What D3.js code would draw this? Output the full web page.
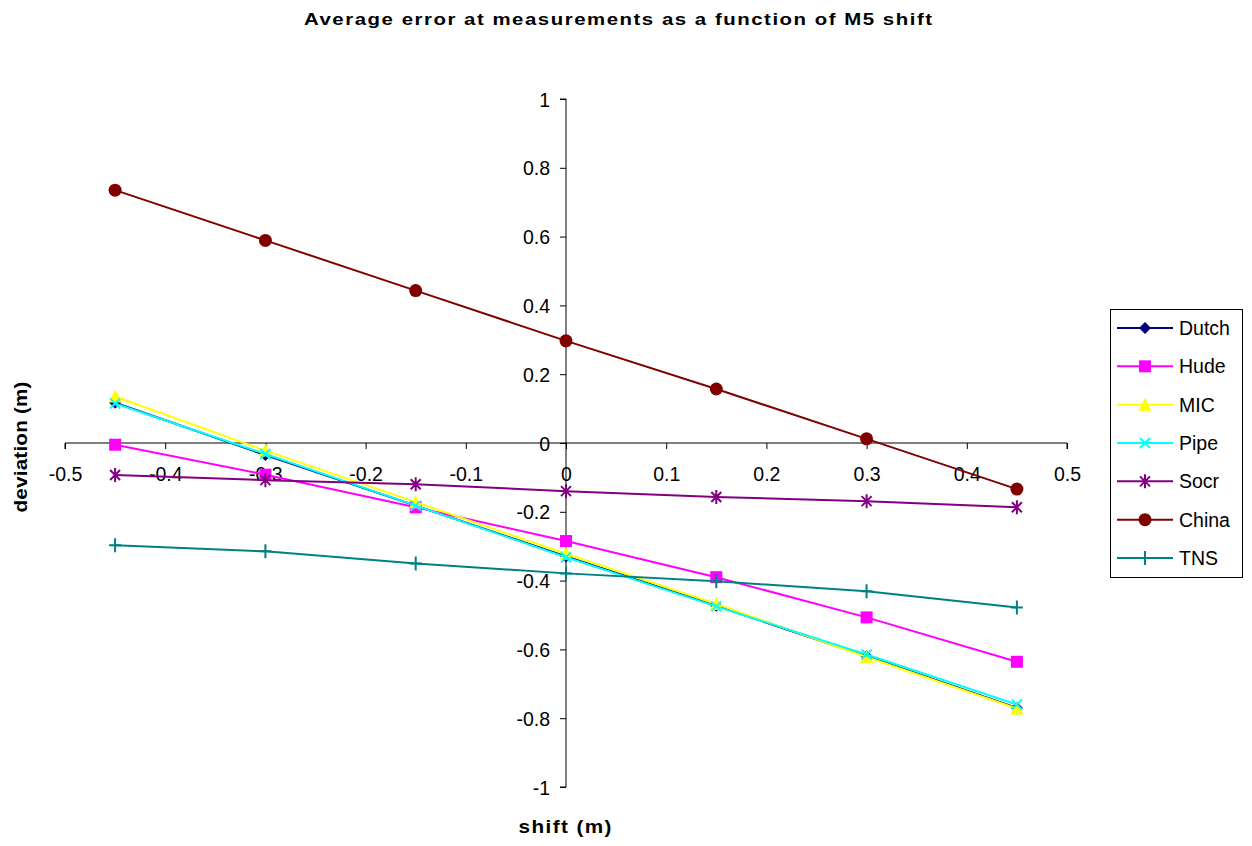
<!DOCTYPE html>
<html><head><meta charset="utf-8">
<script src="https://cdn.jsdelivr.net/npm/d3@7"></script>
<style>body{margin:0;background:#fff;}svg{display:block;font-family:"Liberation Sans",Arial,sans-serif;}</style>
</head><body><svg id="c" width="1252" height="846"></svg>
<script>
const shifts = [-0.45, -0.3, -0.15, 0, 0.15, 0.3, 0.45];
const dutch = [0.117, -0.035, -0.182, -0.33, -0.473, -0.62, -0.77];
const hude = [-0.005, -0.092, -0.187, -0.285, -0.39, -0.507, -0.636];
const mic = [0.135, -0.022, -0.172, -0.322, -0.468, -0.622, -0.772];
const pipe = [0.115, -0.032, -0.182, -0.332, -0.475, -0.615, -0.76];
const socr = [-0.093, -0.108, -0.12, -0.14, -0.157, -0.169, -0.187];
const china = [0.735, 0.589, 0.443, 0.297, 0.157, 0.012, -0.134];
const tns = [-0.297, -0.315, -0.35, -0.379, -0.402, -0.431, -0.478];
const seriesNames = ["Dutch","Hude","MIC","Pipe","Socr","China","TNS"];
const xTicks = [-0.5,-0.4,-0.3,-0.2,-0.1,0,0.1,0.2,0.3,0.4,0.5];
const yTicks = [-1,-0.8,-0.6,-0.4,-0.2,0,0.2,0.4,0.6,0.8,1];

const series = [
 {name:"Dutch", values:dutch, color:"#000080", marker:"diamond"},
 {name:"Hude", values:hude, color:"#FF00FF", marker:"square"},
 {name:"MIC", values:mic, color:"#FFFF00", marker:"triangle"},
 {name:"Pipe", values:pipe, color:"#00FFFF", marker:"x"},
 {name:"Socr", values:socr, color:"#800080", marker:"star"},
 {name:"China", values:china, color:"#800000", marker:"circle"},
 {name:"TNS", values:tns, color:"#008080", marker:"plus"}
];

const fmt = d => String(+d.toFixed(1));

const svg = d3.select("#c");
const x = d3.scaleLinear().domain([-0.5,0.5]).range([65,1067]);
const y = d3.scaleLinear().domain([-1,1]).range([787,99]);

svg.append("g").attr("transform","translate(618,25) scale(1.2,1)")
  .append("text").attr("x",0).attr("y",0).attr("text-anchor","middle")
  .attr("font-weight","bold").attr("font-size",17)
  .attr("textLength",628/1.2).attr("lengthAdjust","spacing")
  .text("Average error at measurements as a function of M5 shift");

const tickFont = 19.5;
const xAxis = d3.axisBottom(x).tickValues(xTicks).tickSize(6).tickFormat(fmt);
const gx = svg.append("g").attr("transform",`translate(0,${y(0)})`).call(xAxis);
gx.attr("font-family",null).attr("font-size",null);
gx.select(".domain").attr("stroke","#000").attr("d",`M${x(-0.5)},6V0H${x(0.5)}V6`);
gx.selectAll(".tick line").attr("stroke","#000");
gx.selectAll(".tick text").attr("font-size",tickFont).attr("fill","#000").attr("dy",null).attr("y",38);

const yAxis = d3.axisLeft(y).tickValues(yTicks).tickSize(6).tickFormat(fmt);
const gy = svg.append("g").attr("transform",`translate(${x(0)},0)`).call(yAxis);
gy.attr("font-family",null).attr("font-size",null);
gy.select(".domain").attr("stroke","#000").attr("d",`M-6,${y(1)}H0V${y(-1)}H-6`);
gy.selectAll(".tick line").attr("stroke","#000");
gy.selectAll(".tick text").attr("font-size",tickFont).attr("fill","#000").attr("x",-16).attr("dy","0.36em");

svg.append("g").attr("transform","translate(565,833) scale(1.15,1)")
  .append("text").attr("text-anchor","middle").attr("font-weight","bold").attr("font-size",18)
  .attr("textLength",93/1.15).attr("lengthAdjust","spacing").text("shift (m)");
svg.append("g").attr("transform","translate(27,447) rotate(-90) scale(1.15,1)")
  .append("text").attr("text-anchor","middle").attr("font-weight","bold").attr("font-size",18)
  .attr("textLength",131/1.15).attr("lengthAdjust","spacing").text("deviation (m)");

function drawMarker(g, type, cx, cy, color){
  const s = 5;
  if(type==="diamond"){
    g.append("path").attr("d",`M${cx},${cy-6}L${cx+6},${cy}L${cx},${cy+6}L${cx-6},${cy}Z`).attr("fill",color);
  } else if(type==="square"){
    g.append("rect").attr("x",cx-6).attr("y",cy-6).attr("width",12).attr("height",12).attr("fill",color);
  } else if(type==="triangle"){
    g.append("path").attr("d",`M${cx},${cy-7}L${cx+6.5},${cy+6}L${cx-6.5},${cy+6}Z`).attr("fill",color);
  } else if(type==="x"){
    g.append("path").attr("d",`M${cx-s},${cy-s}L${cx+s},${cy+s}M${cx+s},${cy-s}L${cx-s},${cy+s}`).attr("stroke",color).attr("stroke-width",2);
  } else if(type==="star"){
    g.append("path").attr("d",`M${cx-s},${cy-s}L${cx+s},${cy+s}M${cx+s},${cy-s}L${cx-s},${cy+s}M${cx},${cy-7}L${cx},${cy+7}`).attr("stroke",color).attr("stroke-width",2);
  } else if(type==="circle"){
    g.append("circle").attr("cx",cx).attr("cy",cy).attr("r",6.5).attr("fill",color);
  } else if(type==="plus"){
    g.append("path").attr("d",`M${cx-6},${cy}L${cx+6},${cy}M${cx},${cy-7}L${cx},${cy+7}`).attr("stroke",color).attr("stroke-width",2);
  }
}

const line = d3.line().x((d,i)=>x(shifts[i])).y(d=>y(d));
series.forEach(s=>{
  const g = svg.append("g");
  g.append("path").attr("d",line(s.values)).attr("fill","none").attr("stroke",s.color).attr("stroke-width",2);
  s.values.forEach((v,i)=>drawMarker(g,s.marker,x(shifts[i]),y(v),s.color));
});

// legend
const lg = svg.append("g");
lg.append("rect").attr("x",1110.5).attr("y",309.5).attr("width",132).attr("height",268).attr("fill","#fff").attr("stroke","#000").attr("stroke-width",1);
const ly = d3.scalePoint().domain(seriesNames).range([328,558]);
series.forEach(s=>{
  const yy = ly(s.name);
  const g = lg.append("g");
  g.append("line").attr("x1",1117).attr("x2",1173).attr("y1",yy).attr("y2",yy).attr("stroke",s.color).attr("stroke-width",2);
  drawMarker(g,s.marker,1145,yy,s.color);
  g.append("text").attr("x",1179).attr("y",yy).attr("dy","0.36em").attr("font-size",19.5).text(s.name);
});
</script></body></html>
